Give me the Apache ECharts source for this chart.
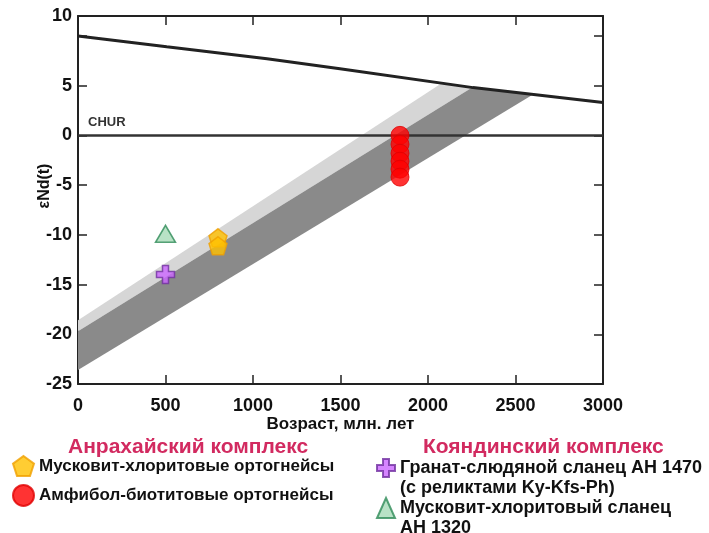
<!DOCTYPE html>
<html lang="ru">
<head>
<meta charset="UTF-8">
<title>εNd(t) — возраст</title>
<script src="https://cdn.jsdelivr.net/npm/echarts@6/dist/echarts.min.js"></script>
</head>
<body style="margin:0;background:#fff;">
<div id="chart" style="width:709px;height:533px;"></div>
<script>
// эволюция деплетированной мантии (возраст, εNd)
var dmLine = [[0, 10], [507, 8.9], [1080, 7.7], [1497, 6.7], [2257, 4.8], [3000, 3.3]];
// поля эволюции коры
var lightBand = [[0, -18.6], [2069, 5.15], [2257, 4.85], [0, -19.7]];
var darkBand = [[0, -19.7], [2257, 4.85], [2600, 4.1], [0, -23.6]];

// образцы
var muscOrtho = [[800, -10.3], [800, -11.1]];
var amphOrtho = [[1840, 0], [1840, -0.9], [1840, -1.8], [1840, -2.6], [1840, -3.4], [1840, -4.2]];
var granatSchist = [[500, -14.0]];
var muscSchist = [[500, -9.9]];

var names = {
    musc: 'Мусковит-хлоритовые ортогнейсы',
    amph: 'Амфибол-биотитовые ортогнейсы',
    gran: 'Гранат-слюдяной сланец АН 1470\n(с реликтами Ky-Kfs-Ph)',
    muscS: 'Мусковит-хлоритовый сланец\nАН 1320'
};

var font = '"Liberation Sans", Arial, sans-serif';
var pentagon = 'path://M0,-10 L9.51,-3.09 L5.88,8.09 L-5.88,8.09 L-9.51,-3.09 Z';
var cross = 'path://M-3,-9 H3 V-3 H9 V3 H3 V9 H-3 V3 H-9 V-3 H-3 Z';

function bandSeries(pts, color) {
    return {
        type: 'custom',
        silent: true,
        z: 1,
        data: pts,
        renderItem: function (params, api) {
            if (params.dataIndex !== 0) return;
            return {
                type: 'polygon',
                shape: { points: pts.map(function (p) { return api.coord(p); }) },
                style: { fill: color }
            };
        }
    };
}

var chart = echarts.init(document.getElementById('chart'));

var tickInside = { show: true, inside: true, length: 9, lineStyle: { color: '#222', width: 1.5 } };
var axisLine = { show: true, onZero: false, lineStyle: { color: '#222', width: 2 } };

chart.setOption({
    backgroundColor: '#fff',
    animation: false,
    textStyle: { fontFamily: font },
    grid: { left: 78, right: 106, top: 16, bottom: 149 },
    xAxis: [{
        type: 'value', min: 0, max: 3000, interval: 500,
        axisLine: axisLine, axisTick: tickInside, splitLine: { show: false },
        axisLabel: {
            margin: 13, fontSize: 18, fontWeight: 'bold', color: '#111',
            formatter: function (v) { return String(v); }
        },
        name: 'Возраст, млн. лет', nameLocation: 'middle', nameGap: 32, nameMoveOverlap: false,
        nameTextStyle: { fontSize: 17, fontWeight: 'bold', color: '#111' }
    }, {
        type: 'value', min: 0, max: 3000, interval: 500, position: 'top',
        axisLine: axisLine, axisTick: tickInside, axisLabel: { show: false }, splitLine: { show: false }
    }],
    yAxis: [{
        type: 'value', min: -25, max: 12, interval: 5,
        axisLine: axisLine, axisTick: tickInside, splitLine: { show: false },
        axisLabel: {
            margin: 6, fontSize: 18, fontWeight: 'bold', color: '#111',
            formatter: function (v) { return v === 12 ? '10' : (v === 10 ? '' : String(v)); }
        },
        name: 'εNd(t)', nameLocation: 'middle', nameGap: 25, nameMoveOverlap: false,
        nameTextStyle: { fontSize: 16, fontWeight: 'bold', color: '#111', padding: [0, 0, 0, 28] }
    }, {
        type: 'value', min: -25, max: 12, interval: 5, position: 'right',
        axisLine: axisLine, axisTick: tickInside, axisLabel: { show: false }, splitLine: { show: false }
    }],
    legend: [{
        orient: 'vertical', left: 12, top: 455, padding: 0,
        itemWidth: 21, itemHeight: 21, itemGap: 7,
        textStyle: { fontSize: 17, fontWeight: 'bold', color: '#111' },
        data: [names.musc, names.amph]
    }, {
        // пустая первая строка: значок встаёт против первой строки подписи
        orient: 'vertical', left: 376, top: 438, height: 120, padding: 0,
        itemWidth: 18, itemHeight: 20, itemGap: -20,
        formatter: function (n) { return '\n' + n; },
        textStyle: { fontSize: 18, fontWeight: 'bold', color: '#111', lineHeight: 20 },
        data: [names.gran, names.muscS]
    }],
    graphic: [{
        type: 'text', left: 68, top: 437,
        style: { text: 'Анрахайский комплекс', font: 'bold 21px ' + font, fill: '#d22a60' }
    }, {
        type: 'text', left: 423, top: 437,
        style: { text: 'Кояндинский комплекс', font: 'bold 21px ' + font, fill: '#d22a60' }
    }],
    series: [
        bandSeries(lightBand, '#d6d6d6'),
        bandSeries(darkBand, '#8a8a8a'),
        {
            type: 'line', data: dmLine, showSymbol: false, silent: true, z: 3,
            lineStyle: { color: '#222', width: 3 },
            markLine: {
                silent: true, symbol: 'none',
                lineStyle: { color: '#333', width: 2.5, type: 'solid' },
                label: {
                    show: true, formatter: 'CHUR', position: 'insideStartTop', distance: [10, 6],
                    fontSize: 13, fontWeight: 'bold', color: '#333'
                },
                data: [{ yAxis: 0 }]
            }
        },
        {
            name: names.musc, type: 'scatter', data: muscOrtho, z: 5,
            symbol: pentagon, symbolSize: 18,
            itemStyle: { color: '#ffc000', borderColor: '#f0a000', borderWidth: 1.5 }
        },
        {
            name: names.amph, type: 'scatter', data: amphOrtho, z: 5,
            symbol: 'circle', symbolSize: 18,
            itemStyle: { color: '#ff0000', borderColor: '#e00000', borderWidth: 1 }
        },
        {
            name: names.gran, type: 'scatter', data: granatSchist, z: 5,
            symbol: cross, symbolSize: 18,
            itemStyle: { color: '#cc66ff', borderColor: '#7030a0', borderWidth: 1.5 }
        },
        {
            name: names.muscS, type: 'scatter', data: muscSchist, z: 5,
            symbol: 'triangle', symbolSize: [20, 17],
            itemStyle: { color: '#a8dbb8', borderColor: '#2e8b57', borderWidth: 1.5 }
        }
    ]
});
</script>
</body>
</html>
